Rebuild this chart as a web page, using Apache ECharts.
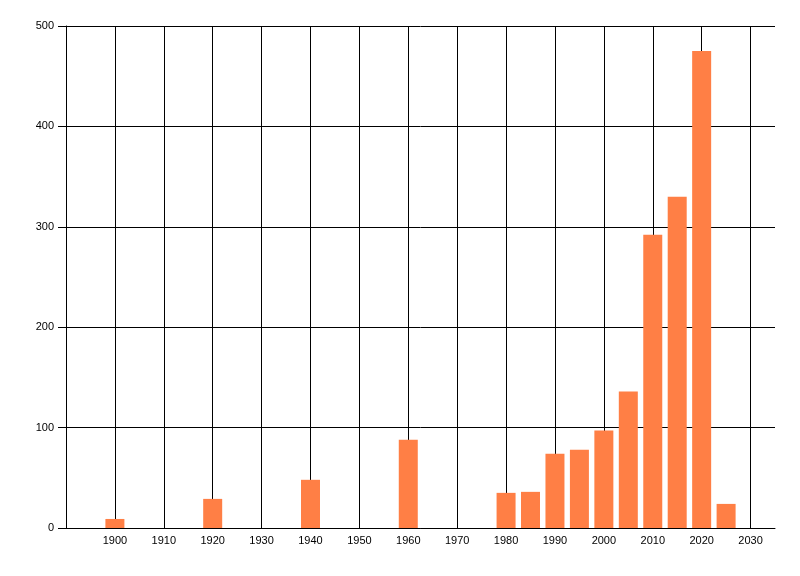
<!DOCTYPE html>
<html>
<head>
<meta charset="utf-8">
<script src="https://cdn.jsdelivr.net/npm/echarts@6/dist/echarts.min.js"></script>
<style>
html, body { margin: 0; padding: 0; background: #fff; }
#main { width: 800px; height: 576px; }
</style>
</head>
<body>
<div id="main"></div>
<script>
// 数据
var years = [1900, 1920, 1940, 1960, 1980, 1985, 1990, 1995, 2000, 2005, 2010, 2015, 2020, 2025];
var counts = [9, 29, 48, 88, 35, 36, 74, 78, 97, 136, 292, 330, 475, 24];
var xMin = 1890, xMax = 2035, xStep = 10;
var yMin = 0, yMax = 500, yStep = 100;

(function () {
    var myChart = echarts.init(document.getElementById('main'));

    // 竖网格线颜色：最后一条(右边界 2035)不画
    var tickCount = Math.floor((xMax - xMin) / xStep) + 2;
    var vColors = [];
    for (var i = 0; i < tickCount; i++) {
        vColors.push(i === tickCount - 1 ? 'rgba(0,0,0,0)' : '#000');
    }

    var barData = years.map(function (y, i) { return [y, counts[i]]; });

    var option = {
        animation: false,
        grid: {
            left: 66,
            right: 25,
            top: 26,
            bottom: 48
        },
        xAxis: {
            type: 'value',
            min: xMin,
            max: xMax,
            interval: xStep,
            axisLine: { show: true, onZero: false, lineStyle: { color: '#000', width: 1 } },
            axisTick: { show: false },
            axisLabel: {
                color: '#000',
                fontFamily: 'Liberation Sans',
                fontSize: 11,
                margin: 7,
                showMinLabel: false,
                showMaxLabel: false,
                formatter: function (v) { return String(v); }
            },
            splitLine: { show: true, lineStyle: { color: vColors, width: 1 } }
        },
        yAxis: {
            type: 'value',
            min: yMin,
            max: yMax,
            interval: yStep,
            axisLine: { show: true, lineStyle: { color: '#000', width: 1 } },
            axisTick: { show: true, length: 8, lineStyle: { color: '#000' } },
            axisLabel: {
                color: '#000',
                fontFamily: 'Liberation Sans',
                fontSize: 11,
                margin: 12
            },
            splitLine: { show: true, lineStyle: { color: '#000', width: 1 } }
        },
        series: [{
            type: 'bar',
            data: barData,
            barWidth: 19,
            itemStyle: { color: '#ff7f45' }
        }]
    };

    myChart.setOption(option);
})();
</script>
</body>
</html>
